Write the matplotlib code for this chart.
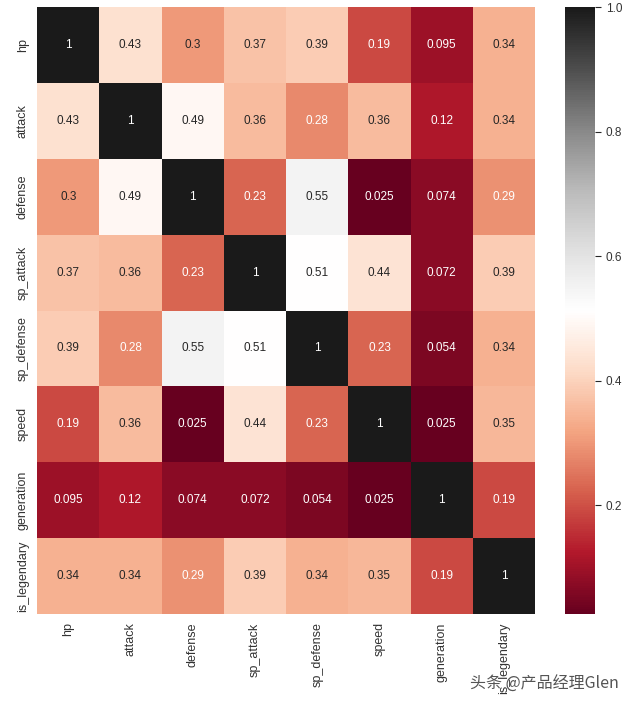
import matplotlib
matplotlib.use("Agg")
import matplotlib.pyplot as plt
import seaborn as sns
import numpy as np
import pandas as pd

# correlation matrix
columns = ['hp', 'attack', 'defense', 'sp_attack', 'sp_defense', 'speed', 'generation', 'is_legendary']
hp = [1, 0.43, 0.3, 0.37, 0.39, 0.19, 0.095, 0.34]
attack = [0.43, 1, 0.49, 0.36, 0.28, 0.36, 0.12, 0.34]
defense = [0.3, 0.49, 1, 0.23, 0.55, 0.025, 0.074, 0.29]
sp_attack = [0.37, 0.36, 0.23, 1, 0.51, 0.44, 0.072, 0.39]
sp_defense = [0.39, 0.28, 0.55, 0.51, 1, 0.23, 0.054, 0.34]
speed = [0.19, 0.36, 0.025, 0.44, 0.23, 1, 0.025, 0.35]
generation = [0.095, 0.12, 0.074, 0.072, 0.054, 0.025, 1, 0.19]
is_legendary = [0.34, 0.34, 0.29, 0.39, 0.34, 0.35, 0.19, 1]

corr = pd.DataFrame([hp, attack, defense, sp_attack, sp_defense, speed, generation, is_legendary],
                    index=columns, columns=columns)

sns.set_style('ticks')
plt.rcParams['font.family'] = ['Liberation Sans', 'Noto Sans CJK SC', 'DejaVu Sans']

fig = plt.figure(figsize=(6.4, 7.09), dpi=100)
ax = fig.add_axes([0.058, 0.134, 0.778, 0.856])
cax = fig.add_axes([0.883, 0.134, 0.047, 0.856])

sns.heatmap(corr, annot=True, cmap='RdGy', ax=ax, cbar_ax=cax,
            annot_kws={'fontsize': 8.5})

# heatmap labels without tick marks, colorbar keeps them
ax.tick_params(labelsize=9, length=0, pad=6, labelcolor='#333333')
plt.setp(ax.get_xticklabels(), rotation=90)
plt.setp(ax.get_yticklabels(), rotation=90, va='center')
cax.tick_params(labelsize=8.5, length=4, labelcolor='#333333')

# watermark
fig.text(0.735, 0.028, '头条 @产品经理Glen', fontsize=11.5, color='#555555',
         family=['Noto Sans CJK SC', 'DejaVu Sans'])

fig.savefig('out.png', dpi=100)
